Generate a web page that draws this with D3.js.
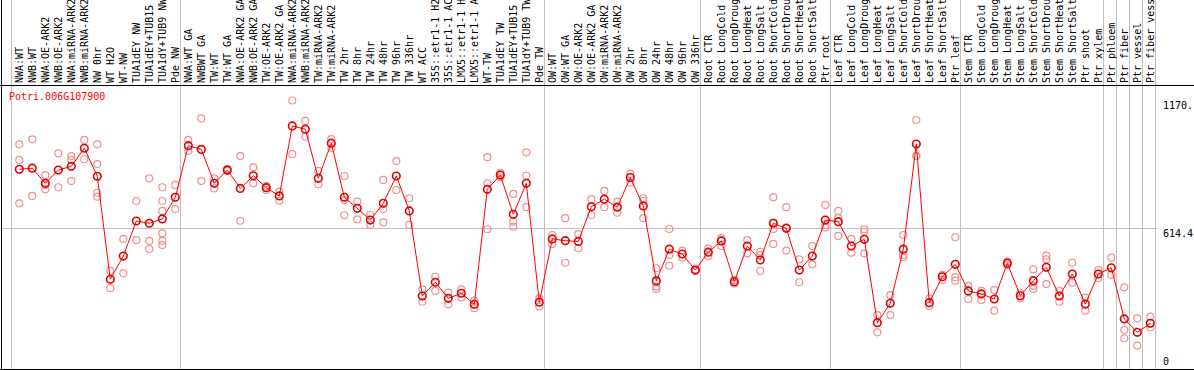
<!DOCTYPE html>
<html>
<head>
<meta charset="utf-8">
<script src="https://cdnjs.cloudflare.com/ajax/libs/d3/7.8.5/d3.min.js"></script>
<style>
  body { margin: 0; background: #fff; }
  text { font-family: "DejaVu Sans Mono", monospace; font-size: 10px; }
</style>
</head>
<body>
<script>
// gene shown on the chart
var geneName = "Potri.006G107900";

// sample names, one per column
var samples = [
  "NWA:WT", "NWB:WT", "NWA:OE-ARK2", "NWB:OE-ARK2", "NWA:miRNA-ARK2", "NWB:miRNA-ARK2",
  "NW 0hr", "WT H2O", "WT-NW", "TUA1dEY NW", "TUA1dEY+TUB15 NW", "TUA1dY+TUB9 NW", "Pde NW",
  "NWA:WT GA", "NWBWT GA", "TW:WT", "TW:WT GA", "NWA:OE-ARK2 GA", "NWB:OE-ARK2 GA",
  "TW:OE-ARK2", "TW:OE-ARK2 GA", "NWA:miRNA-ARK2", "NWB:miRNA-ARK2", "TW:miRNA-ARK2", "TW:miRNA-ARK2",
  "TW 2hr", "TW 8hr", "TW 24hr", "TW 48hr", "TW 96hr", "TW 336hr",
  "WT ACC", "35S::etr1-1 H2O", "35S::etr1-1 ACC", "LMX5::etr1-1 H2O", "LMX5::etr1-1 ACC",
  "WT-TW", "TUA1dEY TW", "TUA1dEY+TUB15 TW", "TUA1dY+TUB9 TW", "Pde TW",
  "OW:WT", "OW:WT GA", "OW:OE-ARK2", "OW:OE-ARK2 GA", "OW:miRNA-ARK2", "OW:miRNA-ARK2",
  "OW 2hr", "OW 8hr", "OW 24hr", "OW 48hr", "OW 96hr", "OW 336hr",
  "Root CTR", "Root LongCold", "Root LongDrought", "Root LongHeat", "Root LongSalt",
  "Root ShortCold", "Root ShortDrought", "Root ShortHeat", "Root ShortSalt", "Ptr root",
  "Leaf CTR", "Leaf LongCold", "Leaf LongDrought", "Leaf LongHeat", "Leaf LongSalt",
  "Leaf ShortCold", "Leaf ShortDrought", "Leaf ShortHeat", "Leaf ShortSalt", "Ptr leaf",
  "Stem CTR", "Stem LongCold", "Stem LongDrought", "Stem LongHeat", "Stem LongSalt",
  "Stem ShortCold", "Stem ShortDrought", "Stem ShortHeat", "Stem ShortSalt",
  "Ptr shoot", "Ptr xylem", "Ptr phloem", "Ptr fiber", "Ptr vessel", "Ptr fiber vessel"
];

// index of the first column of each group (last entry = end)
var groupStarts = [0, 13, 41, 53, 63, 73, 84, 85, 86, 87, 88];

// mean expression per sample
var means = [
  870, 875, 809, 867, 883, 962, 840, 391, 492, 645, 635, 654, 748,
  973, 957, 809, 867, 787, 842, 790, 754, 1059, 1045, 831, 984,
  748, 700, 649, 722, 841, 689, 318, 378, 308, 330, 282,
  783, 845, 674, 809, 291,
  567, 559, 556, 707, 740, 705, 834, 710, 384, 522, 501, 431,
  509, 558, 380, 536, 475, 635, 613, 431, 492, 649,
  642, 536, 565, 202, 286, 522, 980, 289, 402, 456,
  340, 327, 305, 461, 319, 385, 443, 318, 414, 283, 414,
  441, 218, 160, 199
];

// replicate values per sample
var replicates = [
  [979, 911, 722], [1001, 754], [845, 802, 783], [940, 792], [928, 911, 819],
  [998, 914], [979, 893, 768, 751], [428, 352], [567, 417], [732, 562],
  [831, 558, 523], [792, 732, 689, 591, 558, 540], [802, 697],
  [998, 950], [1092, 819], [831, 787], [872, 863], [928, 646], [879, 809],
  [797, 780], [773, 733], [1170, 936], [1081, 1012], [863, 805], [1002, 962],
  [841, 736, 670], [729, 652], [671, 628], [824, 697, 639], [906, 780], [744, 628],
  [347, 293], [402, 340], [333, 282], [347, 312], [298, 265],
  [923, 809, 609], [855, 835], [763, 642, 620], [944, 842, 705], [308, 272],
  [584, 545], [657, 463], [588, 526], [740, 671], [776, 705], [729, 681],
  [850, 812], [744, 732, 657], [439, 359, 349], [610, 497, 450], [516, 485], [428, 434],
  [526, 492], [570, 536], [373, 388], [562, 504], [511, 497, 427],
  [748, 638, 610, 545], [705, 617, 516], [478, 378], [536, 456], [715, 628, 617],
  [689, 657, 580], [567, 507], [609, 598, 504], [235, 160], [322, 235],
  [584, 497, 487], [1085, 928, 928], [308, 275], [410, 388], [574, 400, 385],
  [362, 305], [340, 301], [344, 254], [468, 453], [330, 308],
  [434, 363, 349], [494, 478, 370], [341, 293], [463, 376], [311, 254], [431, 396],
  [485, 410], [356, 170, 134], [221, 102], [228, 182]
];

// right axis tick values
var tickValues = [0, 614.4, 1170];
var tickLabels = ["0", "614.4", "1170."];

var width = 1194, height = 370;
var plotTop = 87, plotBottom = 369, labelBase = 83;

var svg = d3.select("body")
  .append("svg")
  .attr("width", width)
  .attr("height", height);

// column positions
var x = d3.scaleLinear()
  .domain([0, samples.length - 1])
  .range([19.3, 1150.3]);

var y = d3.scaleLinear()
  .domain([0, 1228.8])
  .range([plotBottom, plotTop]);

// grey group separators (run through the label area too)
svg.selectAll(".sep")
  .data(groupStarts)
  .enter()
  .append("line")
    .attr("x1", function(d){ return Math.round(x(d) - 8.5) + 0.5; })
    .attr("x2", function(d){ return Math.round(x(d) - 8.5) + 0.5; })
    .attr("y1", 0)
    .attr("y2", plotBottom)
    .attr("stroke", "#c0c0c0");

// horizontal grid at the middle tick
svg.append("line")
  .attr("x1", 1).attr("x2", 1157)
  .attr("y1", Math.round(y(614.4)) + 0.5).attr("y2", Math.round(y(614.4)) + 0.5)
  .attr("stroke", "#c0c0c0");

// frame lines
svg.append("line")
  .attr("x1", 0).attr("x2", width).attr("y1", 85.5).attr("y2", 85.5)
  .attr("stroke", "#000");
svg.append("line")
  .attr("x1", 0).attr("x2", width).attr("y1", 369.5).attr("y2", 369.5)
  .attr("stroke", "#000");
svg.append("line")
  .attr("x1", 1.5).attr("x2", 1.5).attr("y1", 0).attr("y2", height)
  .attr("stroke", "#000");

// rotated sample labels
svg.selectAll(".lab")
  .data(samples)
  .enter()
  .append("text")
    .attr("transform", function(d, i){ return "translate(" + x(i) + "," + labelBase + ") rotate(-90)"; })
    .attr("dy", "0.35em")
    .attr("fill", "#000")
    .text(function(d){ return d; });

// right axis labels
svg.selectAll(".tick")
  .data(tickValues)
  .enter()
  .append("text")
    .attr("x", 1163)
    .attr("y", function(d){ return Math.min(y(d) + 9, 365); })
    .attr("fill", "#000")
    .text(function(d, i){ return tickLabels[i]; });

// gene title
svg.append("text")
  .attr("x", 9)
  .attr("y", 100)
  .attr("fill", "#f00")
  .text(geneName);

// replicate points
var reps = [];
replicates.forEach(function(r, i){
  r.forEach(function(v){ reps.push({i: i, v: v}); });
});
svg.selectAll(".rep")
  .data(reps)
  .enter()
  .append("circle")
    .attr("cx", function(d){ return x(d.i); })
    .attr("cy", function(d){ return y(d.v); })
    .attr("r", 3.5)
    .attr("fill", "none")
    .attr("stroke", "#f09090")
    .attr("stroke-width", 1.2);

// mean line
var line = d3.line()
  .x(function(d, i){ return x(i); })
  .y(function(d){ return y(d); });

svg.append("path")
  .datum(means)
  .attr("d", line)
  .attr("fill", "none")
  .attr("stroke", "#f00")
  .attr("stroke-width", 1);

// mean markers
svg.selectAll(".mean")
  .data(means)
  .enter()
  .append("circle")
    .attr("cx", function(d, i){ return x(i); })
    .attr("cy", function(d){ return y(d); })
    .attr("r", 3.8)
    .attr("fill", "none")
    .attr("stroke", "#e00000")
    .attr("stroke-width", 1.6);
</script>
</body>
</html>
